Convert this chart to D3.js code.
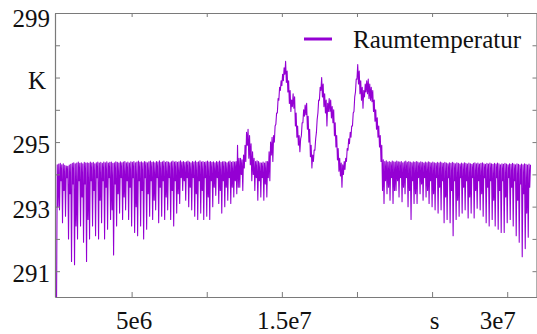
<!DOCTYPE html>
<html>
<head>
<meta charset="utf-8">
<script src="https://cdn.jsdelivr.net/npm/d3@7"></script>
<style>
  body { margin: 0; background: #fff; }
  svg { display: block; }
  .axis path, .axis line { stroke: #7a7a7a; }
</style>
</head>
<body>
<svg id="chart"></svg>
<script>
	// sample spacing in seconds (each sample = one low followed by one high reading)
	var sampleStep = 1e5;

	// low readings, K
	var tempLow = [
		// winter
		289.80, 293.00, 292.90, 293.80, 292.50, 293.50, 292.70, 293.90, 292.00, 293.40,
		291.30, 293.70, 291.20, 292.40, 292.00, 293.80, 292.40, 293.30, 291.90, 293.70,
		291.30, 292.60, 292.00, 293.80, 292.40, 293.50, 292.10, 293.90, 292.00, 293.20,
		292.50, 293.80, 292.00, 293.60, 292.30, 293.90, 292.60, 292.90, 291.50, 293.70,
		292.40, 293.40, 292.80, 293.90, 292.60, 293.30, 292.90, 293.80, 292.60, 293.60,
		292.40, 293.90, 292.20, 293.00, 292.10, 293.80, 292.40, 293.50, 292.00, 293.90,
		292.30, 293.40, 292.70, 293.80, 292.60, 293.20, 292.90, 293.90, 292.50, 293.60,
		292.70, 293.80, 292.60, 293.30, 292.90, 293.90, 292.60, 293.50, 292.40, 293.80,
		292.80, 293.40, 293.10, 293.90, 293.50, 293.80, 293.20, 293.90, 293.00, 293.60,
		292.90, 293.90, 292.70, 293.40, 292.60, 293.80, 292.80, 293.50, 292.60, 293.90,
		292.70, 293.30, 292.60, 293.80, 293.00, 293.60, 293.35, 293.90, 293.10, 293.50,
		292.80, 293.80, 293.00, 293.60, 293.20, 293.90, 293.10, 293.60, 293.30, 293.80,
		293.40, 293.60,
		// summer
		293.60, 294.00, 293.50, 294.20, 294.40, 294.90, 294.50, 294.30, 293.80, 294.00,
		293.50, 293.90, 293.20, 293.80, 293.30, 293.90, 293.20, 293.70, 293.30, 293.90,
		293.80, 294.60, 294.40, 295.00, 295.55, 295.90, 296.30, 296.60, 296.75, 296.90,
		297.10, 296.85, 296.55, 296.20, 295.95, 296.10, 296.05, 295.50, 295.15, 294.90,
		294.70, 295.20, 295.60, 295.80, 295.85, 295.40, 295.00, 294.55, 294.20, 294.40,
		294.75, 295.30, 295.90, 296.30, 296.60, 296.40, 296.10, 295.90, 295.50, 295.95,
		295.95, 295.75, 295.60, 295.20, 294.85, 294.45, 294.10, 293.95, 293.60, 294.00,
		294.15, 294.40, 294.75, 294.95, 295.15, 295.50, 295.95, 296.55, 296.95, 296.80,
		296.50, 296.30, 296.05, 296.40, 296.55, 296.50, 296.35, 296.30, 296.25, 295.95,
		295.65, 295.40, 295.15, 294.85, 294.40, 293.50,
		// autumn / winter
		293.10, 293.80, 293.40, 293.60, 293.20, 293.90, 293.10, 293.50, 293.50, 293.80,
		293.30, 293.90, 293.15, 293.60, 293.40, 293.90, 293.00, 293.50, 292.60, 293.80,
		293.10, 293.40, 293.10, 293.90, 293.40, 293.70, 293.20, 293.90, 293.30, 293.50,
		293.10, 293.80, 293.00, 293.40, 292.90, 293.90, 292.80, 293.60, 292.90, 293.80,
		292.50, 293.30, 292.60, 293.90, 292.50, 293.50, 292.10, 293.80, 292.60, 293.20,
		292.70, 293.90, 292.80, 293.60, 292.90, 293.80, 292.65, 293.30, 292.80, 293.90,
		292.65, 293.50, 292.95, 293.80, 292.90, 293.40, 292.70, 293.90, 292.50, 293.60,
		292.40, 293.80, 292.60, 293.20, 292.40, 293.90, 292.30, 293.50, 292.20, 293.80,
		292.20, 293.30, 292.50, 293.90, 292.60, 293.60, 292.40, 293.80, 292.10, 293.20,
		291.90, 293.70, 291.45, 293.40, 291.70, 292.80, 292.05, 293.60
	];

	// high readings, K
	var tempHigh = [
		// winter
		294.30, 294.32, 294.34, 294.30, 294.33, 294.28, 294.26, 294.25, 294.29, 294.31,
		294.34, 294.36, 294.33, 294.35, 294.38, 294.34, 294.36, 294.33, 294.37, 294.35,
		294.36, 294.34, 294.38, 294.35, 294.37, 294.33, 294.36, 294.38, 294.35, 294.37,
		294.34, 294.38, 294.36, 294.39, 294.35, 294.37, 294.38, 294.34, 294.36, 294.39,
		294.37, 294.35, 294.39, 294.36, 294.38, 294.40, 294.36, 294.38, 294.35, 294.39,
		294.37, 294.40, 294.36, 294.38, 294.41, 294.37, 294.39, 294.36, 294.40, 294.38,
		294.36, 294.39, 294.41, 294.37, 294.39, 294.36, 294.40, 294.38, 294.42, 294.37,
		294.39, 294.41, 294.37, 294.40, 294.38, 294.36, 294.39, 294.41, 294.38, 294.40,
		294.37, 294.39, 294.42, 294.38, 294.40, 294.37, 294.39, 294.41, 294.38, 294.36,
		294.40, 294.38, 294.41, 294.37, 294.39, 294.42, 294.38, 294.40, 294.37, 294.39,
		294.41, 294.38, 294.40, 294.37, 294.39, 294.36, 294.40, 294.38, 294.41, 294.37,
		294.39, 294.40, 294.38, 294.36, 294.39, 294.41, 294.37, 294.40, 294.38, 294.40,
		294.90, 294.50,
		// summer
		294.50, 294.45, 294.60, 294.90, 295.30, 295.40, 295.20, 294.95, 294.70, 294.50,
		294.40, 294.42, 294.40, 294.36, 294.35, 294.38, 294.35, 294.40, 294.40, 294.70,
		295.00, 295.15, 295.20, 295.50, 295.90, 296.35, 296.70, 296.90, 297.10, 297.30,
		297.50, 297.20, 296.90, 296.60, 296.30, 296.50, 296.40, 295.90, 295.50, 295.20,
		295.10, 295.60, 296.00, 296.15, 296.20, 295.80, 295.40, 294.90, 294.60, 294.75,
		295.10, 295.70, 296.30, 296.70, 297.00, 296.80, 296.50, 296.30, 296.20, 296.35,
		296.30, 296.10, 296.00, 295.60, 295.20, 294.80, 294.50, 294.35, 294.30, 294.40,
		294.50, 294.80, 295.10, 295.30, 295.50, 295.90, 296.40, 296.95, 297.40, 297.20,
		296.90, 296.70, 296.60, 296.80, 296.90, 296.95, 296.80, 296.70, 296.60, 296.30,
		296.00, 295.75, 295.50, 295.20, 294.90, 294.45,
		// autumn / winter
		294.40, 294.42, 294.38, 294.40, 294.37, 294.41, 294.39, 294.38, 294.41, 294.39,
		294.38, 294.40, 294.36, 294.39, 294.41, 294.37, 294.40, 294.38, 294.36, 294.39,
		294.37, 294.40, 294.38, 294.36, 294.39, 294.37, 294.35, 294.38, 294.36, 294.39,
		294.37, 294.35, 294.38, 294.36, 294.34, 294.37, 294.35, 294.38, 294.36, 294.34,
		294.37, 294.35, 294.33, 294.36, 294.34, 294.37, 294.35, 294.33, 294.36, 294.34,
		294.32, 294.35, 294.33, 294.36, 294.34, 294.32, 294.35, 294.33, 294.31, 294.34,
		294.36, 294.33, 294.35, 294.32, 294.34, 294.36, 294.33, 294.31, 294.34, 294.32,
		294.35, 294.33, 294.31, 294.34, 294.32, 294.35, 294.33, 294.30, 294.33, 294.31,
		294.34, 294.32, 294.30, 294.33, 294.31, 294.34, 294.32, 294.30, 294.33, 294.31,
		294.29, 294.32, 294.30, 294.33, 294.31, 294.29, 294.32, 294.30
	];

	var yTicks = [291, 292, 293, 294, 295, 296, 297, 298, 299];
	var yTickLabels = ["291", "", "293", "", "295", "", "K", "", "299"];
	var xTicks = [5e6, 1e7, 1.5e7, 2e7, 2.5e7, 3e7];
	var xTickLabels = ["5e6", "", "1.5e7", "", "s", "3e7"];
	var seriesName = "Raumtemperatur";

	var svgWidth = 537;
	var svgHeight = 334;
	var plotLeft = 55, plotRight = 536.5, plotTop = 13, plotBottom = 297;
	var lineColor = "#9400d3";
	var serif = "'Liberation Serif', 'Times New Roman', serif";

	var svg = d3.select("#chart")
		.attr("width", svgWidth)
		.attr("height", svgHeight);

	var xScale = d3.scaleLinear()
		.domain([-1e5, 3.195e7])
		.range([plotLeft, plotRight]);

	var yScale = d3.scaleLinear()
		.domain([290.2, 299])
		.range([plotBottom, plotTop]);

	// one line through low and high reading of every sample
	var points = [];
	for (var i = 0; i < Math.min(tempLow.length, tempHigh.length); i++) {
		points.push([i * sampleStep, tempLow[i]]);
		points.push([i * sampleStep + sampleStep / 2, tempHigh[i]]);
	}

	svg.append("clipPath")
		.attr("id", "plotClip")
		.append("rect")
		.attr("x", plotLeft)
		.attr("y", plotTop)
		.attr("width", plotRight - plotLeft)
		.attr("height", plotBottom - plotTop);

	var line = d3.line()
		.x(function(d) { return xScale(d[0]); })
		.y(function(d) { return yScale(d[1]); });

	svg.append("path")
		.datum(points)
		.attr("clip-path", "url(#plotClip)")
		.attr("fill", "none")
		.attr("stroke", lineColor)
		.attr("stroke-width", 1.1)
		.attr("stroke-linejoin", "round")
		.attr("d", line);

	// axes, ticks point inward on all four sides
	var xAxis = d3.axisBottom(xScale)
		.tickValues(xTicks)
		.tickSize(-5)
		.tickSizeOuter(0)
		.tickPadding(14)
		.tickFormat(function(d, i) { return xTickLabels[i]; });

	var gx = svg.append("g")
		.attr("class", "x axis")
		.attr("transform", "translate(0," + plotBottom + ")")
		.call(xAxis)
		.attr("font-family", serif)
		.attr("font-size", 25);
	gx.selectAll(".tick text")
		.attr("fill", "#111")
		.attr("dx", function(d, i) { return i === 5 ? -10 : 2; });

	var yAxis = d3.axisLeft(yScale)
		.tickValues(yTicks)
		.tickSize(-5)
		.tickSizeOuter(0)
		.tickPadding(5)
		.tickFormat(function(d, i) { return yTickLabels[i]; });

	var gy = svg.append("g")
		.attr("class", "y axis")
		.attr("transform", "translate(" + plotLeft + ",0)")
		.call(yAxis)
		.attr("font-family", serif)
		.attr("font-size", 25);
	gy.selectAll(".tick text")
		.attr("fill", "#111")
		.attr("dy", function(d) { return d === 299 ? "0.52em" : "0.42em"; })
		.attr("dx", function(d) { return d === 297 ? -4 : 0; });

	svg.append("g")
		.attr("class", "axis")
		.attr("transform", "translate(0," + plotTop + ")")
		.call(d3.axisTop(xScale).tickValues(xTicks).tickSize(-4).tickSizeOuter(0).tickFormat(""));

	svg.append("g")
		.attr("class", "axis")
		.attr("transform", "translate(" + plotRight + ",0)")
		.call(d3.axisRight(yScale).tickValues(yTicks).tickSize(-4).tickSizeOuter(0).tickFormat(""));

	svg.selectAll(".axis path").attr("stroke-width", 1.2);

	// legend
	var legend = svg.append("g").attr("class", "legend");
	legend.append("line")
		.attr("x1", 304).attr("x2", 332)
		.attr("y1", 39).attr("y2", 39)
		.attr("stroke", lineColor)
		.attr("stroke-width", 3);
	legend.append("text")
		.attr("x", 353)
		.attr("y", 48)
		.attr("font-family", serif)
		.attr("font-size", "25px")
		.attr("fill", "#111")
		.text(seriesName);
</script>
</body>
</html>
